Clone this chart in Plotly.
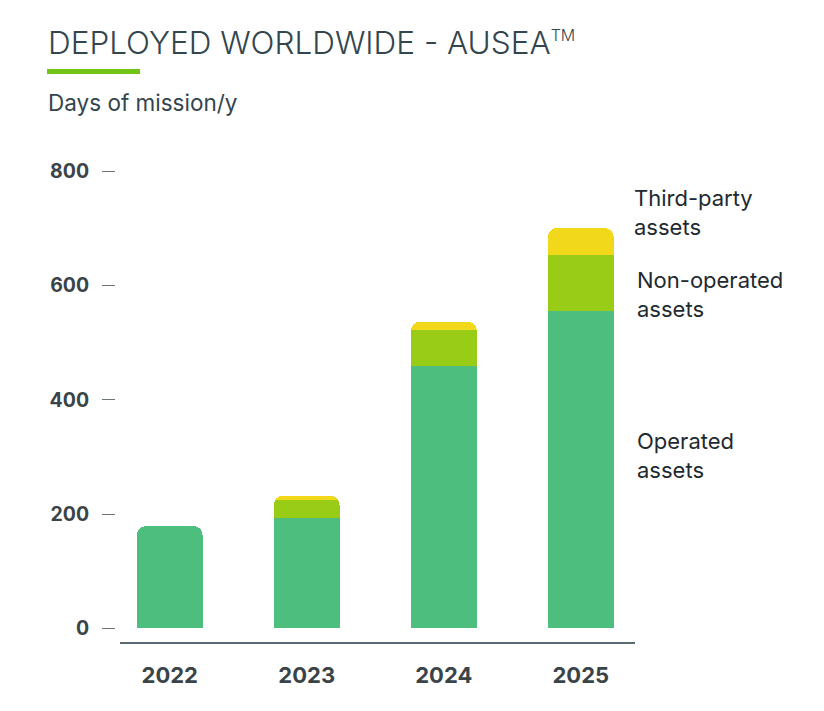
import plotly.graph_objects as go

years = ["2022", "2023", "2024", "2025"]
operated = [179, 194, 460, 556]
non_operated = [None, 30, 63, 98]
third_party = [None, 8, 14, 47]
y_ticks = [0, 200, 400, 600, 800]

C_OP = "#4EBE7E"
C_NON = "#98CC17"
C_THIRD = "#F1D81B"
FONT = "Inter"
DARK = "#33454D"

W, H = 824, 711
ml, mr, mt, mb = 115, 189, 160, 69
pw = W - ml - mr
ph = H - mt - mb

fig = go.Figure()
for name, vals, col in [("Operated assets", operated, C_OP),
                        ("Non-operated assets", non_operated, C_NON),
                        ("Third-party assets", third_party, C_THIRD)]:
    fig.add_trace(go.Bar(x=years, y=vals, name=name, marker=dict(color=col, line=dict(width=0)),
                         width=0.48))

fig.update_layout(
    width=W, height=H,
    margin=dict(l=ml, r=mr, t=mt, b=mb, autoexpand=False),
    barmode="stack", barcornerradius=9,
    plot_bgcolor="white", paper_bgcolor="white",
    showlegend=False,
    font=dict(family=FONT, color=DARK),
    xaxis=dict(type="category", range=[-0.363, 3.396], domain=[5 / pw, 1],
               showgrid=False, zeroline=False,
               showline=True, linecolor="#5A6A70", linewidth=1.5, ticks="",
               tickfont=dict(size=22, family=FONT, color="#3A4448", weight="bold"),
               ticklabelstandoff=13),
    yaxis=dict(range=[-24, 820], tickvals=y_ticks, showgrid=False, zeroline=False,
               showline=False, ticks="outside", ticklen=13, tickwidth=1, tickcolor="#6A767B",
               tickfont=dict(size=19.5, family=FONT, color="#3A4448", weight="bold"),
               ticklabelstandoff=9, anchor="free", position=0),
)

# title & subtitle
fig.add_annotation(xref="paper", yref="paper", x=(46 - ml) / pw, y=1 + (mt - 43) / ph,
                   xanchor="left", yanchor="middle", showarrow=False,
                   text="DEPLOYED WORLDWIDE - AUSEA<sup><span style='font-size:16px'>TM</span></sup>",
                   font=dict(size=31.5, family=FONT, color=DARK, weight=300))
fig.add_annotation(xref="paper", yref="paper", x=(46 - ml) / pw, y=1 + (mt - 102) / ph,
                   xanchor="left", yanchor="middle", showarrow=False,
                   text="Days of mission/y",
                   font=dict(size=22.5, family=FONT, color=DARK))
fig.add_shape(type="rect", xref="paper", yref="paper",
              x0=(47 - ml) / pw, x1=(140 - ml) / pw,
              y0=1 + (mt - 74) / ph, y1=1 + (mt - 69) / ph,
              fillcolor="#72C416", line=dict(width=0))

# series labels
for txt, yv, dx in [("Third-party<br>assets", 728, 51), ("Non-operated<br>assets", 584, 54),
                    ("Operated<br>assets", 302, 54)]:
    fig.add_annotation(x=3, y=yv, xref="x", yref="y", text=txt, showarrow=False,
                       xanchor="left", yanchor="middle", align="left", xshift=dx,
                       font=dict(size=22, family=FONT, color="#1E2A30"))

fig.write_html("out.html")
